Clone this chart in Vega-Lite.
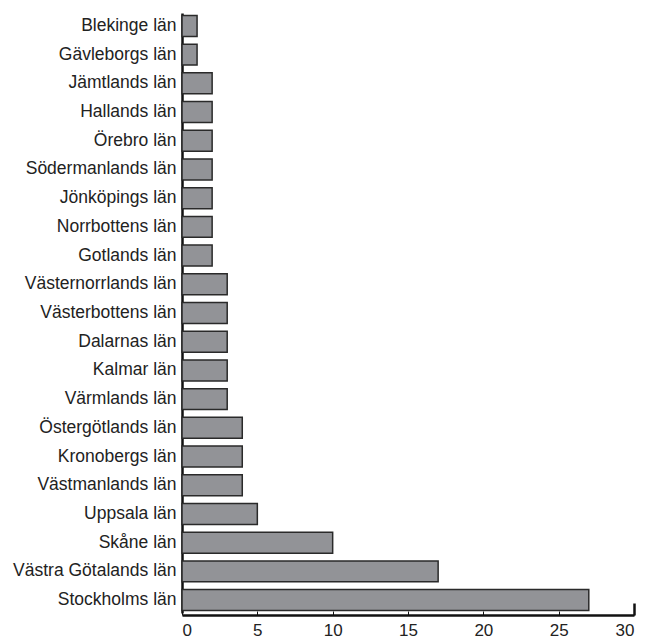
{
  "$schema": "https://vega.github.io/schema/vega-lite/v6.json",
  "width": 452,
  "height": 600,
  "autosize": {"type": "none"},
  "padding": {"left": 182, "top": 13, "right": 13, "bottom": 26},
  "background": "white",
  "config": {"view": {"stroke": null}, "font": "Liberation Sans"},
  "data": {"values": [
    {"lan": "Blekinge län", "v": 1},
    {"lan": "Gävleborgs län", "v": 1},
    {"lan": "Jämtlands län", "v": 2},
    {"lan": "Hallands län", "v": 2},
    {"lan": "Örebro län", "v": 2},
    {"lan": "Södermanlands län", "v": 2},
    {"lan": "Jönköpings län", "v": 2},
    {"lan": "Norrbottens län", "v": 2},
    {"lan": "Gotlands län", "v": 2},
    {"lan": "Västernorrlands län", "v": 3},
    {"lan": "Västerbottens län", "v": 3},
    {"lan": "Dalarnas län", "v": 3},
    {"lan": "Kalmar län", "v": 3},
    {"lan": "Värmlands län", "v": 3},
    {"lan": "Östergötlands län", "v": 4},
    {"lan": "Kronobergs län", "v": 4},
    {"lan": "Västmanlands län", "v": 4},
    {"lan": "Uppsala län", "v": 5},
    {"lan": "Skåne län", "v": 10},
    {"lan": "Västra Götalands län", "v": 17},
    {"lan": "Stockholms län", "v": 27}
  ]},
  "resolve": {"axis": {"x": "independent"}},
  "layer": [
    {
      "mark": {"type": "bar", "fill": "#929397", "stroke": "#2a2a2a", "strokeWidth": 1.5},
      "encoding": {
        "y": {
          "field": "lan", "type": "nominal", "sort": null,
          "scale": {"paddingInner": 0.27, "paddingOuter": 0.085},
          "axis": {"title": null, "ticks": false, "domainColor": "#111", "domainWidth": 2.5,
                   "labelFontSize": 17.5, "labelColor": "#222", "labelPadding": 6, "grid": false}
        },
        "x": {
          "field": "v", "type": "quantitative",
          "scale": {"domain": [0, 30], "nice": false},
          "axis": {"orient": "bottom", "title": null, "values": [0, 5, 10, 15, 20, 25, 30], "grid": false,
                   "domainColor": "#111", "domainWidth": 2.5, "tickColor": "#111", "tickSize": -4,
                   "labelFontSize": 17, "labelColor": "#222", "labelPadding": 11, "offset": 2}
        }
      }
    },
    {
      "mark": {"type": "bar", "opacity": 0},
      "encoding": {
        "y": {"field": "lan", "type": "nominal", "sort": null},
        "x": {
          "field": "v", "type": "quantitative",
          "axis": {"orient": "bottom", "title": null, "values": [30], "grid": false, "labels": false,
                   "domain": false, "tickColor": "#111", "tickSize": -12, "tickWidth": 2.5, "offset": 2}
        }
      }
    }
  ]
}
